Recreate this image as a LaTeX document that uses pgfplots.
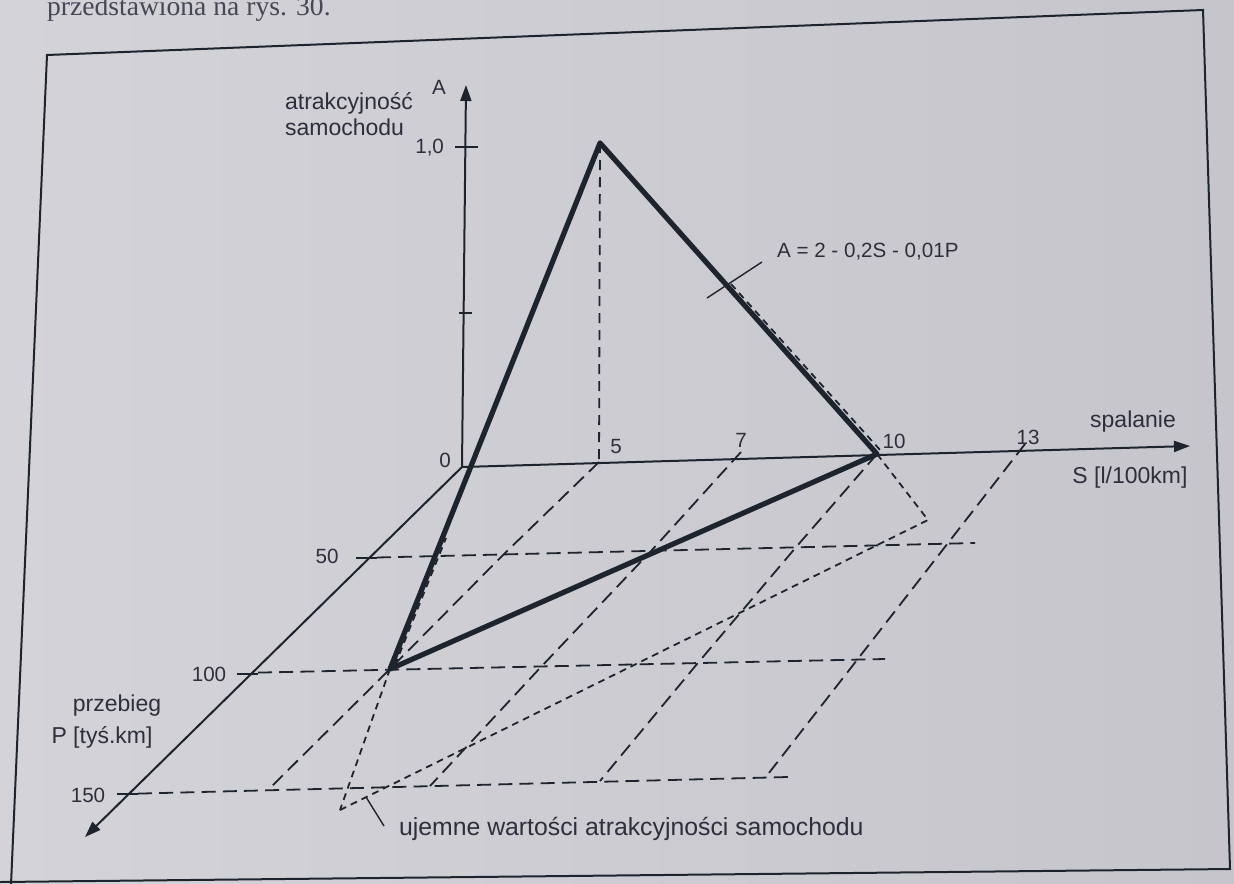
\documentclass[border=0pt]{standalone}
\usepackage{fontspec}
\setmainfont{Liberation Sans}
\newfontfamily\bookserif{Liberation Serif}
\usepackage{pgfplots}
\pgfplotsset{compat=1.18}
\usetikzlibrary{arrows.meta}

\definecolor{paper}{RGB}{198,197,203}
\definecolor{paperlight}{RGB}{212,211,216}
\definecolor{ink}{RGB}{30,36,46}
\definecolor{txt}{RGB}{45,48,60}

\tikzset{
  axisline/.style={ink, line width=1pt, -{Triangle[length=8pt,width=5.5pt]}},
  thinline/.style={ink, line width=1pt},
  edge/.style={ink, line width=2.6pt, line join=round, line cap=round},
  longdash/.style={ink, line width=0.9pt, dash pattern=on 7pt off 3.6pt},
  vdash/.style={ink, line width=0.9pt, dash pattern=on 5pt off 3.5pt},
  shortdash/.style={ink, line width=0.9pt, dash pattern=on 3.4pt off 2.6pt},
  lbl/.style={txt, font=\fontsize{11.5}{13}\selectfont},
  num/.style={txt, font=\fontsize{10.3}{12}\selectfont},
}

\begin{document}
\begin{tikzpicture}
\useasboundingbox (0,0) rectangle (617pt,441.5pt);
\clip (0,0) rectangle (617pt,441.5pt);
\shade[left color=paperlight, right color=paper] (0,0) rectangle (617pt,441.5pt);
\begin{axis}[
  scale only axis, width=617pt, height=441.5pt,
  xmin=0, xmax=1234, ymin=0, ymax=883, y dir=reverse,
  hide axis, clip=false,
]
% page frame
\addplot[thinline] coordinates {(11,885) (47,55) (1203,10) (1230,869) (0,882)};

% coordinate axes: A (up), S (right), P (down-left)
\addplot[axisline] coordinates {(462,467) (466,85)};
\addplot[axisline] coordinates {(462,467) (1190,446)};
\addplot[axisline] coordinates {(462,467) (85,837)};

% tick marks
\addplot[thinline] coordinates {(455,147) (478,147)};
\addplot[thinline] coordinates {(459,313) (472,313)};
\addplot[thinline] coordinates {(356,558) (377,558)};
\addplot[thinline] coordinates {(237,674) (258,674)};
\addplot[thinline] coordinates {(117,794) (138,794)};

% grid of the S-P plane: lines of constant P
\addplot[longdash] coordinates {(377,557.5) (975,543)};
\addplot[longdash] coordinates {(258,672.6) (885,659)};
\addplot[longdash] coordinates {(138,793.6) (788,777)};

% lines of constant S
\addplot[vdash] coordinates {(600,143) (599,466)};
\addplot[longdash] coordinates {(599,462) (503,555) (390,669) (268,790)};
\addplot[longdash] coordinates {(741,452) (652,550) (540,668) (430,786)};
\addplot[longdash] coordinates {(877,454) (797,546) (697,664) (600,781)};
\addplot[longdash] coordinates {(1025,444) (948,543) (857,660) (765,778)};

% region where the attractiveness would be negative
\addplot[shortdash] coordinates {(390,669) (340,810)};
\addplot[shortdash] coordinates {(340,810) (928,520) (877,454)};
\addplot[shortdash] coordinates {(731,284) (881,451)};
\addplot[shortdash] coordinates {(395,665) (446,538)};

% the plane A = 2 - 0.2S - 0.01P cut by the positive octant
\addplot[edge] coordinates {(600,143) (877,454) (390,669) (600,143)};

% leader lines
\addplot[ink, line width=0.7pt] coordinates {(707,298) (762,262)};
\addplot[ink, line width=0.7pt] coordinates {(366,797) (384,826)};

% labels
\node[lbl, anchor=west] at (278,103) {atrakcyjność};
\node[lbl, anchor=west] at (278,127) {samochodu};
\node[num] at (439,87) {A};
\node[num, anchor=east] at (451,148) {1,0};
\node[num] at (445,460) {0};
\node[num] at (616,447) {5};
\node[num] at (741,440) {7};
\node[num] at (894,441) {10};
\node[num] at (1028,437) {13};
\node[lbl] at (1133,422) {spalanie};
\node[lbl] at (1130,478) {S [l/100km]};
\node[num] at (327,556) {50};
\node[num] at (209,674) {100};
\node[num] at (88,795) {150};
\node[lbl] at (117,706) {przebieg};
\node[lbl] at (102,737) {P [tyś.km]};
\node[num, anchor=west] at (770,252) {A = 2 - 0,2S - 0,01P};
\node[txt, anchor=west, font=\fontsize{12.4}{14}\selectfont] at (392,829) {ujemne wartości atrakcyjności samochodu};
\node[anchor=base west, text={rgb,255:red,70;green,72;blue,86}, font=\bookserif\fontsize{13.8}{16}\selectfont] at (40,16) {przedstawiona na rys. 30.};
\end{axis}
\end{tikzpicture}
\end{document}
